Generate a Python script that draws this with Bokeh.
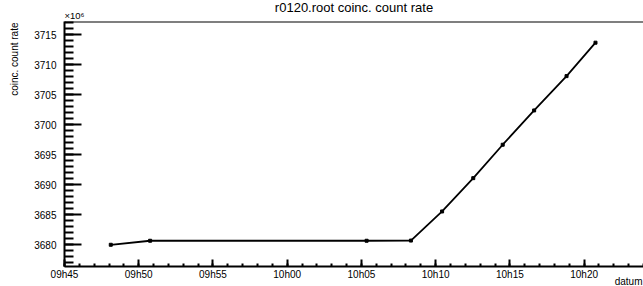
import pandas as pd
from bokeh.plotting import figure
from bokeh.models import Range1d, FixedTicker, DatetimeTickFormatter, Span, Title
from bokeh.embed import file_html
from bokeh.resources import INLINE

day = "2012-03-01 "
times = ["09:48:07", "09:50:46", "10:05:21", "10:08:20", "10:10:26",
         "10:12:32", "10:14:31", "10:16:38", "10:18:49", "10:20:46"]
rate = [3680.0, 3680.67, 3680.67, 3680.70, 3685.55,
        3691.10, 3696.67, 3702.38, 3708.10, 3713.67]
x_tick_times = ["09:45", "09:50", "09:55", "10:00", "10:05", "10:10", "10:15", "10:20"]
y_ticks = [3680, 3685, 3690, 3695, 3700, 3705, 3710, 3715]
x_start, x_end = "09:45:00", "10:24:00"
y_start, y_end = 3676.38, 3717.2
title_text = "r0120.root coinc. count rate"
y_label = "coinc. count rate"
x_label = "datum"
exp_label = "\u00d710\u2076"

EPOCH = pd.Timestamp("1970-01-01")
def ms(t):
    return (pd.Timestamp(day + t) - EPOCH) / pd.Timedelta(milliseconds=1)

xs = [pd.Timestamp(day + t) for t in times]
x0, x1 = ms(x_start), ms(x_end)

FONT = "Liberation Sans"

p = figure(width=643, height=286, x_axis_type="datetime",
           x_range=Range1d(x0, x1), y_range=Range1d(y_start, y_end),
           output_backend="svg", toolbar_location=None,
           min_border_left=64, min_border_right=0, min_border_top=21, min_border_bottom=20)
p.outline_line_color = None
p.xgrid.visible = False
p.ygrid.visible = False
p.background_fill_color = "white"
p.border_fill_color = "white"

# x axis
xmaj = [ms(t + ":00") for t in x_tick_times]
xmin = [x0 + i * 60000 for i in range(0, int((x1 - x0) / 60000) + 1)]
p.xaxis.ticker = FixedTicker(ticks=xmaj, minor_ticks=xmin)
fmt = "%Hh%M"
p.xaxis.formatter = DatetimeTickFormatter(minutes=fmt, hourmin=fmt, hours=fmt,
                                          minsec=fmt, seconds=fmt, days=fmt)
ax = p.xaxis[0]
ax.axis_line_width = 2
ax.major_tick_in = 7
ax.major_tick_out = 0
ax.minor_tick_in = 3
ax.minor_tick_out = 0
ax.major_tick_line_width = 2
ax.minor_tick_line_width = 2
ax.major_label_standoff = 2
ax.major_label_text_font = FONT
ax.major_label_text_font_size = "10px"
ax.major_label_text_color = "black"

# y axis
ymin = [y for y in range(3677, 3718)]
p.yaxis.ticker = FixedTicker(ticks=y_ticks, minor_ticks=ymin)
ay = p.yaxis[0]
ay.axis_line_width = 2
ay.major_tick_in = 17
ay.major_tick_out = 0
ay.minor_tick_in = 9
ay.minor_tick_out = 0
ay.major_tick_line_width = 2
ay.minor_tick_line_width = 2
ay.major_label_standoff = 8
ay.major_label_text_font = FONT
ay.major_label_text_font_size = "10px"
ay.major_label_text_color = "black"

# top frame line
p.add_layout(Span(location=y_end, dimension="width", line_color="black", line_width=2))

# data
p.line(xs, rate, line_color="black", line_width=1.8)
p.scatter(xs, rate, marker="square", size=3, color="black")

# texts as titles in the side panels
p.add_layout(Title(text=exp_label, align="left", vertical_align="top", standoff=-3,
                   text_font=FONT, text_font_size="9.5px", text_font_style="normal",
                   text_color="black"), "above")
p.add_layout(Title(text=title_text, align="center", vertical_align="top", standoff=-10,
                   text_font=FONT, text_font_size="13px", text_font_style="normal",
                   text_color="black"), "above")
p.add_layout(Title(text=y_label, align="right", vertical_align="top", standoff=17.5, offset=1,
                   text_font=FONT, text_font_size="10px", text_font_style="normal",
                   text_color="black"), "left")
p.add_layout(Title(text=x_label, align="right", vertical_align="top", standoff=-13, offset=1,
                   text_font=FONT, text_font_size="10px", text_font_style="normal",
                   text_color="black"), "below")

open("out.html", "w").write(file_html(p, INLINE))
